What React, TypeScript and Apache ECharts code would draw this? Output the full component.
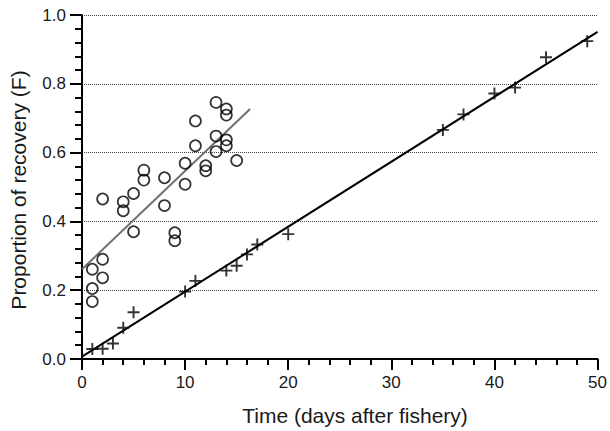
import React, { useEffect, useRef } from "react";
import * as echarts from "echarts";

// Open circles (grey regression)
const circleDays = [1, 1, 1, 2, 2, 2, 4, 4, 5, 5, 6, 6, 8, 8, 9, 9, 10, 10, 11, 11, 12, 12, 13, 13, 13, 14, 14, 14, 14, 15];
const circleF = [0.261, 0.205, 0.167, 0.465, 0.29, 0.236, 0.457, 0.431, 0.481, 0.37, 0.549, 0.52, 0.527, 0.446, 0.367, 0.344, 0.569, 0.508, 0.62, 0.692, 0.562, 0.547, 0.746, 0.648, 0.603, 0.727, 0.709, 0.637, 0.62, 0.577];

// Crosses (black regression)
const crossDays = [1, 2, 3, 4, 5, 10, 11, 14, 15, 16, 17, 20, 35, 37, 40, 42, 45, 49];
const crossF = [0.029, 0.03, 0.045, 0.091, 0.136, 0.196, 0.227, 0.257, 0.271, 0.304, 0.333, 0.363, 0.666, 0.711, 0.772, 0.789, 0.877, 0.924];

// Fitted lines (end points)
const greyFitX = [0, 16.3];
const greyFitY = [0.261, 0.727];
const blackFitX = [0, 50];
const blackFitY = [0.007, 0.951];

const xTitle = "Time (days after fishery)";
const yTitle = "Proportion of recovery (F)";

const FONT = "'Liberation Sans', Arial, Helvetica, sans-serif";

export default function App() {
  const ref = useRef<HTMLDivElement>(null);
  useEffect(() => {
    document.body.style.margin = "0";
    if (!ref.current) return;
    const chart = echarts.init(ref.current, undefined, { renderer: "svg" });
    const zip = (xs: number[], ys: number[]) => xs.map((x, i) => [x, ys[i]]);
    chart.setOption({
      animation: false,
      backgroundColor: "#ffffff",
      grid: { left: 82, right: 12, top: 15, bottom: 72 },
      xAxis: {
        type: "value",
        min: 0,
        max: 50,
        interval: 10,
        axisLine: { show: true, lineStyle: { color: "#000", width: 2 } },
        axisTick: { show: true, inside: false, length: 11, lineStyle: { color: "#000", width: 2 } },
        minorTick: { show: true, splitNumber: 5, length: 6, lineStyle: { color: "#000", width: 2 } },
        splitLine: { show: false },
        axisLabel: { margin: 15, fontSize: 17, color: "#1a1a1a", fontFamily: FONT },
      },
      yAxis: {
        type: "value",
        min: 0,
        max: 1,
        interval: 0.2,
        axisLine: { show: true, lineStyle: { color: "#000", width: 2 } },
        axisTick: { show: true, inside: false, length: 12, lineStyle: { color: "#000", width: 2 } },
        minorTick: { show: true, splitNumber: 5, length: 7, lineStyle: { color: "#000", width: 2 } },
        splitLine: { show: true, lineStyle: { color: "#444", width: 1, type: [1, 1] } },
        axisLabel: {
          margin: 16,
          fontSize: 17,
          color: "#1a1a1a",
          fontFamily: FONT,
          formatter: (v: number) => v.toFixed(1),
        },
      },
      graphic: [
        {
          type: "text",
          x: 355,
          y: 415,
          style: {
            text: xTitle,
            fontSize: 21,
            fontFamily: FONT,
            fill: "#1a1a1a",
            textAlign: "center",
            textVerticalAlign: "middle",
          },
        },
        {
          type: "text",
          x: 18,
          y: 190,
          rotation: Math.PI / 2,
          style: {
            text: yTitle,
            fontSize: 21,
            fontFamily: FONT,
            fill: "#1a1a1a",
            textAlign: "center",
            textVerticalAlign: "middle",
          },
        },
      ],
      series: [
        {
          type: "line",
          data: zip(greyFitX, greyFitY),
          showSymbol: false,
          lineStyle: { color: "#707070", width: 2 },
          z: 2,
        },
        {
          type: "line",
          data: zip(blackFitX, blackFitY),
          showSymbol: false,
          lineStyle: { color: "#000", width: 2 },
          z: 2,
        },
        {
          type: "scatter",
          data: zip(circleDays, circleF),
          symbol: "circle",
          symbolSize: 11,
          itemStyle: { color: "rgba(0,0,0,0)", borderColor: "#000", borderWidth: 1.7 },
          z: 3,
        },
        {
          type: "scatter",
          data: zip(crossDays, crossF),
          symbol: "path://M5,0 L5,10 M0,5 L10,5",
          symbolSize: 12,
          itemStyle: { color: "rgba(0,0,0,0)", borderColor: "#000", borderWidth: 1.9 },
          z: 3,
        },
      ],
    });
    return () => chart.dispose();
  }, []);
  return <div ref={ref} style={{ width: 610, height: 431 }} />;
}
